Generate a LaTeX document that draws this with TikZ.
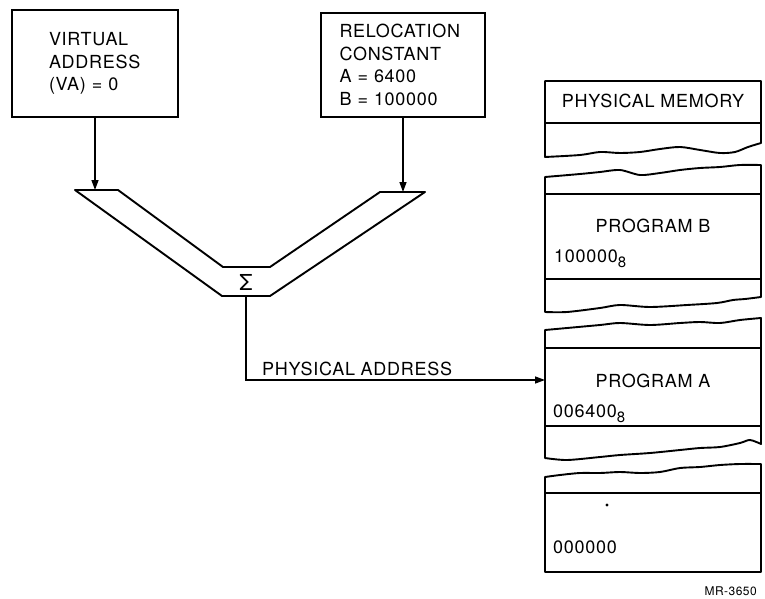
\documentclass[tikz,border=0pt]{standalone}
\usepackage{fontspec}
\setmainfont{TeX Gyre Heros}[LetterSpace=4]
\usetikzlibrary{arrows.meta,positioning,calc}
\newcommand{\octsub}[1]{#1\raisebox{-5pt}{\fontsize{15}{15}\selectfont 8}}

\begin{document}
\begin{tikzpicture}[x=1pt, y=-1pt, >={Triangle[length=10pt,width=7pt]},
  box/.style={draw, line width=1.9pt, align=left, font=\fontsize{18}{22.5}\selectfont},
  lbl/.style={font=\fontsize{18}{22}\selectfont, inner sep=0pt},
  wall/.style={line width=1.9pt, line join=round},
  feed/.style={->, line width=1.4pt}]
\useasboundingbox (0,0) rectangle (765,599);

\node[box, text width=92pt, inner xsep=37pt, minimum height=107pt] (va) at (95,63.5) {VIRTUAL\\ADDRESS\\(VA) = 0};
\node[box, text width=127pt, inner xsep=18.5pt, minimum height=104pt] (reloc) at (403,65) {RELOCATION\\CONSTANT\\A = 6400\\B = 100000};

\draw[wall] (75,190) -- (118,190) -- (223,267) -- (270,267) -- (380,192) -- (425,192) -- (270,296) -- (222,296) -- cycle;
\node[lbl, font=\fontsize{22}{22}\selectfont] (sum) at (246,282) {Σ};
\coordinate (inL) at (95,190);
\coordinate (inR) at (403,192);
\coordinate (sumout) at (246,296);
\coordinate (memin) at (545,380);

\draw[feed] (va) -- (inL);
\draw[feed] (reloc) -- (inR);
\draw[feed] (sumout) |- (memin);
\node[lbl, anchor=base west] (paddr) at (262,375) {PHYSICAL ADDRESS};

\draw[wall] plot[smooth] coordinates {(545,157) (580,155) (600,152) (620,153) (640,152) (660,149) (680,147) (700,150) (720,153) (735,152) (748,147) (761,143)} -- (761,81) -- (545,81) -- cycle;
\draw[wall] plot[smooth] coordinates {(545,177) (580,174) (600,172) (620,170) (640,175) (660,173) (680,170) (700,168) (720,167) (740,165) (761,165)}
  -- plot[smooth] coordinates {(761,297) (745,299) (733,300) (717,303) (687,305) (650,307) (620,305) (600,308) (567,312) (545,312)} -- cycle;
\draw[wall] plot[smooth] coordinates {(545,330) (567,328) (600,325) (620,323) (650,325) (680,323) (700,322) (720,323) (740,320) (761,318)}
  -- plot[smooth] coordinates {(761,444) (750,440) (740,443) (720,447) (700,448) (680,450) (650,453) (620,455) (600,457) (567,460) (545,458)} -- cycle;
\draw[wall] plot[smooth] coordinates {(545,477) (560,475) (580,473) (600,473) (620,472) (640,473) (660,472) (680,468) (700,467) (720,465) (740,464) (761,464)} -- (761,572) -- (545,572) -- cycle;
\draw[wall] (545,123) -- (761,123);
\draw[wall] (545,194) -- (761,194);
\draw[wall] (545,279) -- (761,279);
\draw[wall] (545,348) -- (761,348);
\draw[wall] (545,426) -- (761,426);
\draw[wall] (545,493) -- (761,493);

\node[lbl, anchor=base] (memtitle) at (653,108) {PHYSICAL MEMORY};
\node[lbl, anchor=base] (progB) at (653,232) {PROGRAM B};
\node[lbl, anchor=base west] (baseB) at (554,262) {\octsub{100000}};
\node[lbl, anchor=base] (progA) at (653,387) {PROGRAM A};
\node[lbl, anchor=base west] (baseA) at (553,417) {\octsub{006400}};
\node[fill, circle, inner sep=1.2pt] (gap) at (607,505) {};
\node[lbl, anchor=base west] (zero) at (553,553) {000000};
\node[lbl, font=\fontsize{12}{14}\selectfont, anchor=base east] (fig) at (757,595) {MR-3650};
\end{tikzpicture}
\end{document}
